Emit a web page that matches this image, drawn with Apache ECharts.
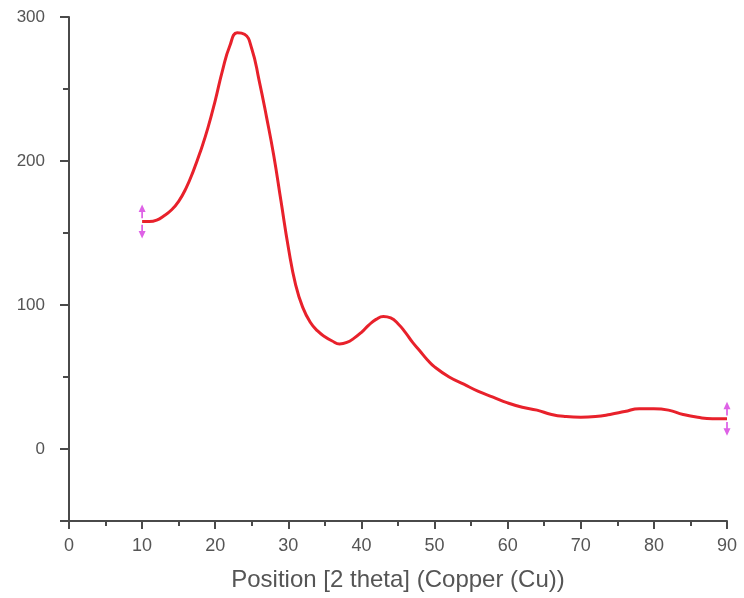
<!DOCTYPE html>
<html>
<head>
<meta charset="utf-8">
<script src="https://cdn.jsdelivr.net/npm/echarts@6/dist/echarts.min.js"></script>
<style>html,body{margin:0;padding:0;background:#fff}#c{width:744px;height:598px}</style>
</head>
<body>
<div id="c"></div>
<script>
// 2-theta positions (degrees)
var theta = [10, 11, 12, 13, 14, 15, 16, 17, 18, 19, 20, 21, 22, 23, 24, 25, 26, 27, 28, 29,
             30, 31, 32, 33, 34, 35, 36, 37, 38, 39, 40, 41, 42, 43, 44, 45, 46, 47, 48, 49,
             50, 52, 54, 56, 58, 60, 62, 64, 66, 68, 70, 72, 74, 76, 78, 80, 82, 84, 86, 88, 90];
// intensity (counts)
var counts = [158, 158, 159, 162, 166, 172, 181, 193, 207, 223, 242, 263, 280, 289, 288, 278, 256, 231, 204, 172,
              140, 114, 98, 88, 82, 78, 75, 73, 74, 77, 81, 86, 90, 92, 91, 87, 81, 74, 68, 62,
              57, 50, 45, 40, 36, 32, 29, 27, 24, 22.5, 22, 22.5, 24, 26, 28, 28, 27, 24, 22, 21, 21];
// range end markers
var markerX = [10, 90];
var markerY = [158, 21];
// tick labels
var yLabels = [0, 100, 200, 300];
var xAxisTitle = 'Position [2 theta] (Copper (Cu))';

var lineData = theta.map(function (t, i) { return [t, counts[i]]; });
var markerData = markerX.map(function (t, i) { return [t, markerY[i]]; });

var axisColor = '#4a4a4a';
var textColor = '#555555';
var fontFam = '"Liberation Sans", Arial, sans-serif';

var chart = echarts.init(document.getElementById('c'));
chart.setOption({
  animation: false,
  backgroundColor: '#fff',
  grid: { left: 69, right: 17, top: 17, bottom: 77, containLabel: false },
  xAxis: {
    type: 'value', min: 0, max: 90, interval: 10,
    name: xAxisTitle, nameLocation: 'middle', nameGap: 47,
    nameTextStyle: { color: textColor, fontSize: 24, fontFamily: fontFam },
    axisLine: { show: true, onZero: false, lineStyle: { color: axisColor, width: 2 } },
    axisTick: { show: true, inside: false, length: 8, lineStyle: { color: axisColor, width: 2 } },
    minorTick: { show: true, splitNumber: 2, length: 5, lineStyle: { color: axisColor, width: 2 } },
    axisLabel: { color: textColor, fontSize: 18, fontFamily: fontFam, margin: 16 },
    splitLine: { show: false }
  },
  yAxis: [{
    type: 'value', min: -50, max: 300, interval: 50,
    axisLine: { show: true, onZero: false, lineStyle: { color: axisColor, width: 2 } },
    axisTick: { show: true, length: 6, lineStyle: { color: axisColor, width: 2 } },
    axisLabel: {
      color: textColor, fontSize: 17, fontFamily: fontFam, margin: 24,
      formatter: function (v) { return yLabels.indexOf(v) >= 0 ? String(v) : ''; }
    },
    splitLine: { show: false }
  }, {
    type: 'value', inverse: true, min: -300, max: 50, interval: 100, position: 'left',
    axisLine: { show: false },
    axisTick: { show: true, length: 9, lineStyle: { color: axisColor, width: 2 } },
    axisLabel: { show: false },
    splitLine: { show: false }
  }],
  series: [{
    type: 'line',
    data: lineData,
    smooth: 0.5,
    showSymbol: false,
    symbol: 'none',
    lineStyle: { color: '#e8212b', width: 3 },
    z: 3
  }, {
    type: 'scatter',
    data: markerData,
    symbol: 'path://M4,0 L8,7 L5,7 L5,13 L3,13 L3,7 L0,7 Z M3,19 L5,19 L5,25 L8,25 L4,32 L0,25 L3,25 Z',
    symbolSize: [7, 34],
    itemStyle: { color: '#d63be0' },
    z: 4
  }]
});
</script>
</body>
</html>
